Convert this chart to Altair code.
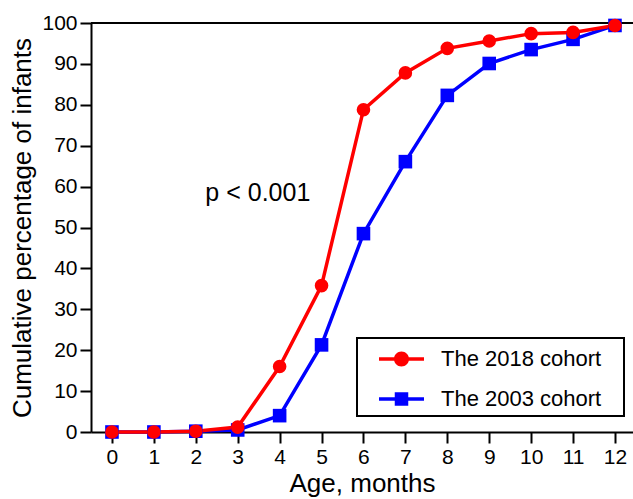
import altair as alt
import pandas as pd

months = list(range(13))
cohort_2018 = [0.0, 0.0, 0.2, 1.2, 16.0, 35.8, 78.8, 87.8, 93.8, 95.6, 97.4, 97.7, 99.4]
cohort_2003 = [0.0, 0.0, 0.2, 0.5, 4.0, 21.3, 48.5, 66.1, 82.3, 90.1, 93.5, 96.0, 99.4]
series_names = ["The 2018 cohort", "The 2003 cohort"]
series_colors = ["#ff0000", "#0000ff"]
series_shapes = ["circle", "square"]
y_ticks = list(range(0, 101, 10))
annotation = "p < 0.001"

# legend symbols: a short line with the marker on it
legend_shapes = [
    "M-1.5,-0.12H1.5V0.12H-1.5Z M0.5,0A0.5,0.5 0 1 1 -0.5,0A0.5,0.5 0 1 1 0.5,0Z",
    "M-1.5,-0.12H1.5V0.12H-1.5Z M-0.45,-0.45H0.45V0.45H-0.45Z",
]

# 2003 first so that the 2018 series is drawn on top
df = pd.concat([
    pd.DataFrame({"month": months, "pct": cohort_2003, "cohort": series_names[1]}),
    pd.DataFrame({"month": months, "pct": cohort_2018, "cohort": series_names[0]}),
])

FONT = "Liberation Sans"

x_enc = alt.X("month:Q", scale=alt.Scale(domain=[-0.5, 12.43], nice=False, zero=False),
              axis=alt.Axis(values=months, labelAngle=0, title="Age, months",
                            labelPadding=3, titlePadding=3))
y_enc = alt.Y("pct:Q", scale=alt.Scale(domain=[0, 100], nice=False),
              axis=alt.Axis(values=y_ticks, title="Cumulative percentage of infants",
                            labelPadding=3, titlePadding=6))

color_scale = alt.Scale(domain=series_names, range=series_colors)

lines = alt.Chart(df).mark_line(strokeWidth=3.5).encode(
    x=x_enc, y=y_enc,
    color=alt.Color("cohort:N", scale=color_scale, legend=None),
    detail="cohort:N", order="month:Q",
)
points = alt.Chart(df).mark_point(filled=True, size=185, opacity=1).encode(
    x=x_enc, y=y_enc,
    color=alt.Color("cohort:N", scale=color_scale, legend=None),
    shape=alt.Shape("cohort:N", scale=alt.Scale(domain=series_names, range=series_shapes), legend=None),
)
top_rule = alt.Chart(pd.DataFrame({"v": [100]})).mark_rule(color="black", strokeWidth=2).encode(
    y=alt.Y("v:Q")
)
text = alt.Chart(pd.DataFrame({"t": [annotation], "mx": [3.48], "py": [58.4]})).mark_text(
    font=FONT, fontSize=25, color="black", align="center", baseline="middle"
).encode(x="mx:Q", y="py:Q", text="t:N")

main = alt.layer(top_rule, lines, points, text)

legend = alt.Legend(
    title=None, orient="none", legendX=266, legendY=315,
    padding=6, strokeColor="black", fillColor="white", cornerRadius=0,
    labelFont=FONT, labelFontSize=22, labelColor="black", labelLimit=400,
    labelExpr="datum.label + '\u2800'",
    symbolSize=900, symbolStrokeWidth=0, symbolOpacity=1,
    symbolOffset=23.5, labelOffset=24.5, rowPadding=14,
)
legend_layer = alt.Chart(df).mark_point(filled=True, opacity=0, size=0).encode(
    x=x_enc, y=y_enc,
    color=alt.Color("cohort:N", scale=color_scale, legend=legend),
    shape=alt.Shape("cohort:N", scale=alt.Scale(domain=series_names, range=legend_shapes),
                    legend=legend),
)

chart = alt.layer(main, legend_layer).resolve_scale(
    color="independent", shape="independent"
).properties(
    width=542, height=409,
    autosize=alt.AutoSizeParams(type="none"),
    padding={"left": 91, "top": 23, "right": 0, "bottom": 67},
).configure_view(stroke=None).configure_axis(
    domainColor="black", domainWidth=2, tickColor="black", tickWidth=2, tickSize=11,
    labelFont=FONT, labelFontSize=21, labelColor="black",
    titleFont=FONT, titleFontSize=26, titleFontWeight="normal", titleColor="black",
    grid=False,
).configure_legend(strokeWidth=2)

chart.save("out.html", embed_options={"renderer": "svg", "actions": False})
